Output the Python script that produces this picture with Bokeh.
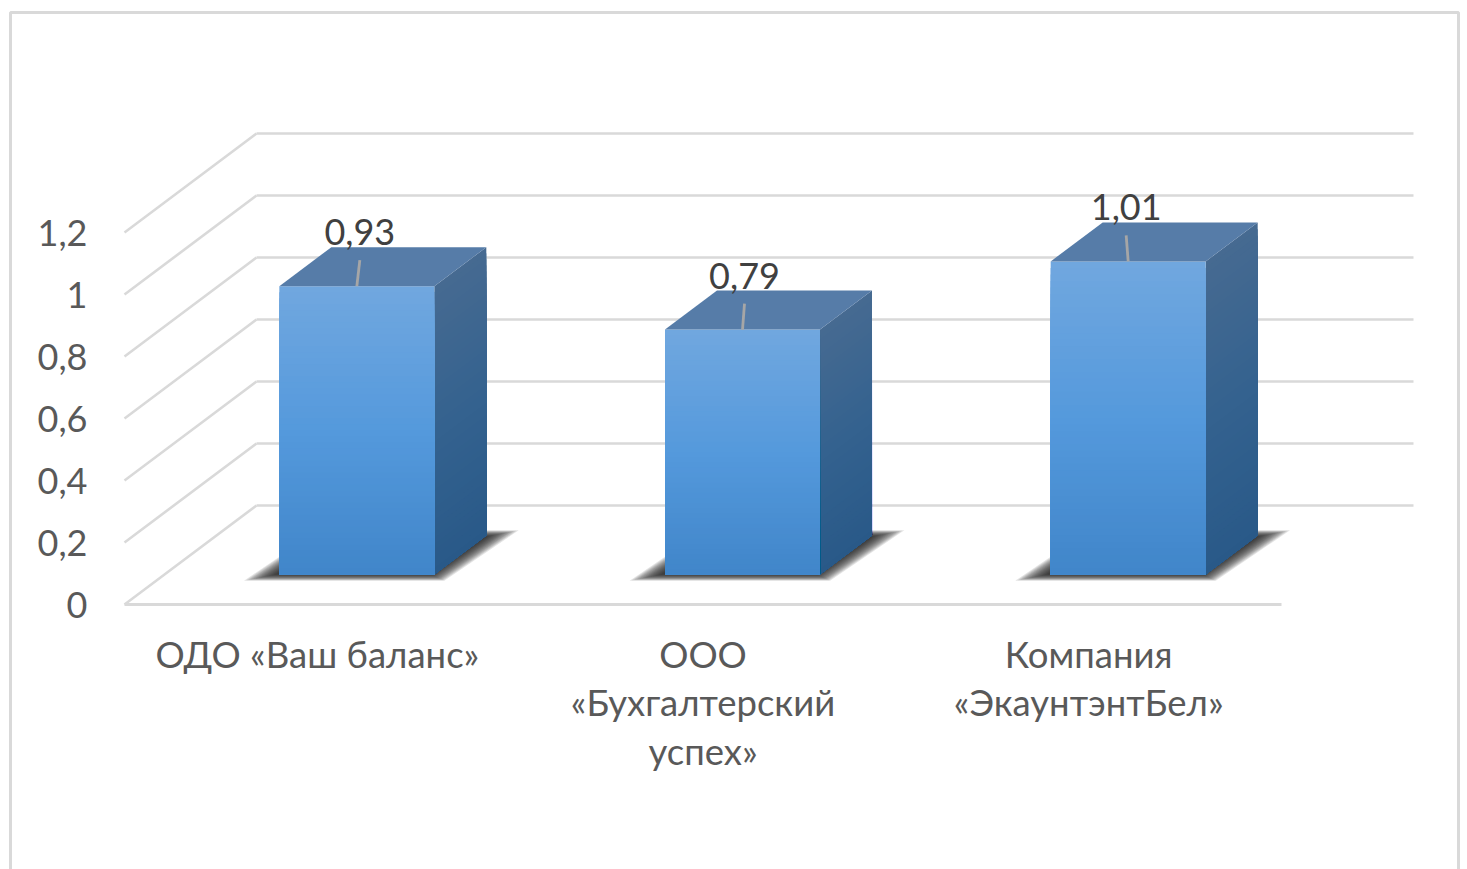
from bokeh.plotting import figure
from bokeh.embed import file_html
from bokeh.resources import INLINE
from bokeh.models import FixedTicker
from bokeh.core.properties import value

categories = ["ОДО «Ваш баланс»", "ООО\n«Бухгалтерский\nуспех»", "Компания\n«ЭкаунтэнтБел»"]
values = [0.93, 0.79, 1.01]
value_labels = ["0,93", "0,79", "1,01"]
y_ticks = [0, 0.2, 0.4, 0.6, 0.8, 1.0, 1.2]
y_tick_labels = ["0", "0,2", "0,4", "0,6", "0,8", "1", "1,2"]

W, H = 1467, 869
PX, PY = 385.67, 310.0          # pixels per category, pixels per value unit
X0, Y0 = 124.0, 604.0           # pixel of category 0 / value 0 on the front plane
FONT = "Lato"
FS_Y = "36px"
FS_X = "36.5px"

def ux(px): return px / PX
def uy(px): return px / PY
def sx_(px): return (px - X0) / PX
def sy_(px): return (Y0 - px) / PY

p = figure(width=W, height=H, output_backend="svg", toolbar_location=None,
           x_range=(-X0 / PX, (W - X0) / PX), y_range=((Y0 - H) / PY, Y0 / PY),
           min_border=0, outline_line_color=None, background_fill_color="white",
           border_fill_color="white")
p.grid.visible = False

# picture frame: open at the bottom
p.line([sx_(10), sx_(10), sx_(1458), sx_(1458)],
       [sy_(H + 10), sy_(12), sy_(12), sy_(H + 10)],
       line_color="#d9d9d9", line_width=3)

# walls
WALL_DX, WALL_DY = ux(132), uy(99)
xn = len(categories)
for t in y_ticks:
    p.line([0, WALL_DX], [t, t + WALL_DY], line_color="#d9d9d9", line_width=2.6)
    p.line([WALL_DX, xn + WALL_DX], [t + WALL_DY, t + WALL_DY], line_color="#d9d9d9", line_width=2.6)
p.line([0, xn], [0, 0], line_color="#d9d9d9", line_width=2.8)

# bars
BAR_W = ux(155)
PLANE_DX, PLANE_DY = ux(39.5), uy(30)
DEPTH_DX, DEPTH_DY = ux(52), uy(39)
STEPS = 48
FRONT = [(112, 167, 223), (84, 153, 220), (64, 133, 201)]
SIDE = [(70, 106, 145), (52, 98, 143), (41, 89, 136)]
TOP = "#567ca8"

def grad(stops, f):
    if f < 0.5:
        a, b, k = stops[0], stops[1], f * 2
    else:
        a, b, k = stops[1], stops[2], (f - 0.5) * 2
    return "#%02x%02x%02x" % tuple(round(a[i] + (b[i] - a[i]) * k) for i in range(3))

LABEL_NUDGE = [3, 2, -2]
SLANT = 65 / 44
for i, v in enumerate(values):
    cx = i + 0.5 + PLANE_DX
    l, r = cx - BAR_W / 2, cx + BAR_W / 2
    b = PLANE_DY
    t = b + v

    # soft shadow: stacked parallelograms, each a little smaller
    for d in range(7, -8, -1):
        e = d * 0.45
        h = 44 + 2 * e
        xl = l - ux(19 + 1.667 * d + e * SLANT)
        xr = r + ux(3 + 1.667 * d - e * SLANT)
        yb = b - uy(3 + e)
        p.patch([xl, xr, xr + ux(h * SLANT), xl + ux(h * SLANT)],
                [yb, yb, yb + uy(h), yb + uy(h)],
                fill_color="#222222", fill_alpha=0.12, line_alpha=0)

    # side face and front face, painted as stacked layers for the gradient
    for s in range(STEPS):
        f = s / STEPS
        y = t - v * f
        col = grad(SIDE, f)
        p.patch([r, r + DEPTH_DX, r + DEPTH_DX, r],
                [y, y + DEPTH_DY, b + DEPTH_DY, b],
                fill_color=col, line_alpha=0)
    for s in range(STEPS):
        f = s / STEPS
        y = t - v * f
        p.quad(left=l, right=r, top=y, bottom=b, fill_color=grad(FRONT, f), line_alpha=0)

    # top face
    p.patch([l, r, r + DEPTH_DX, l + DEPTH_DX], [t, t, t + DEPTH_DY, t + DEPTH_DY],
            fill_color=TOP, line_alpha=0)

    # leader and value label
    lx = cx + ux(LABEL_NUDGE[i])
    p.line([cx, lx], [t, t + uy(26)], line_color="#a6a6a6", line_width=2.8)
    p.text([lx], [t + uy(54)], text=[value_labels[i]], text_font=value(FONT),
           text_font_size=FS_Y, text_color="#404040", text_align="center",
           text_baseline="middle")

# axes
ya = p.yaxis[0]
ya.fixed_location = ux(-37)
ya.ticker = FixedTicker(ticks=y_ticks)
ya.major_label_overrides = dict(zip(y_ticks, y_tick_labels))
ya.axis_line_color = None
ya.major_tick_line_color = None
ya.minor_tick_line_color = None
ya.major_tick_out = 0
ya.major_tick_in = 0
ya.major_label_standoff = 0
ya.major_label_text_font = FONT
ya.major_label_text_font_size = FS_Y
ya.major_label_text_color = "#595959"

xticks = [i + 0.5 for i in range(len(categories))]
xa = p.xaxis[0]
xa.fixed_location = uy(-27)
xa.ticker = FixedTicker(ticks=xticks)
xa.major_label_overrides = dict(zip(xticks, categories))
xa.axis_line_color = None
xa.major_tick_line_color = None
xa.minor_tick_line_color = None
xa.major_tick_out = 0
xa.major_tick_in = 0
xa.major_label_standoff = 0
xa.major_label_text_font = FONT
xa.major_label_text_font_size = FS_X
xa.major_label_text_color = "#595959"
xa.major_label_text_line_height = 1.106

open("out.html", "w").write(file_html(p, INLINE))
